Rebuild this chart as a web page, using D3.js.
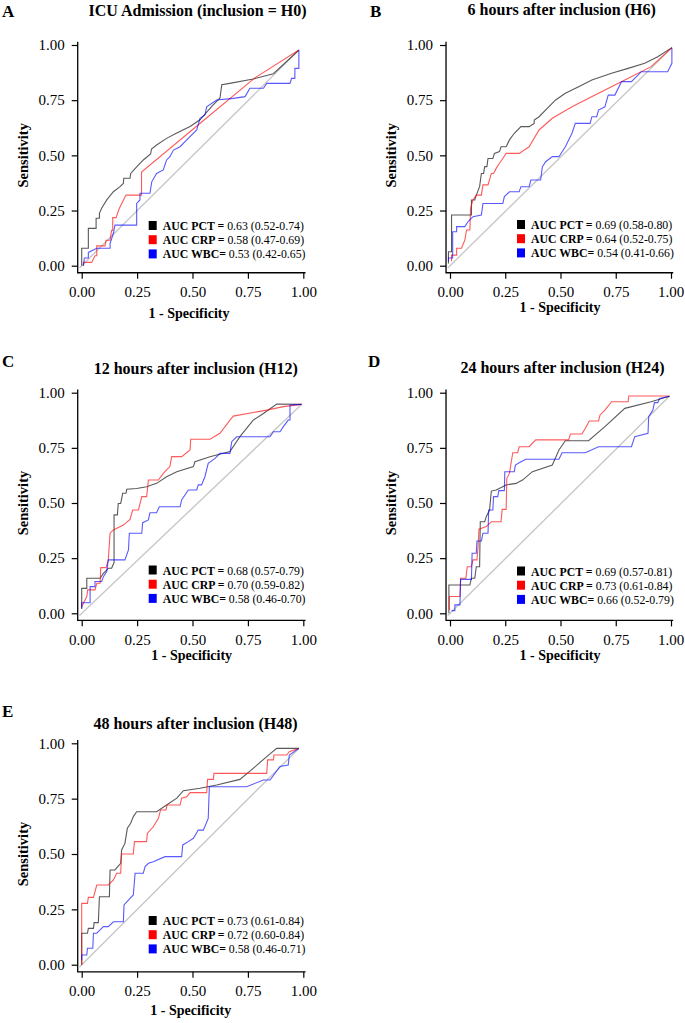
<!DOCTYPE html>
<html>
<head>
<meta charset="utf-8">
<script src="https://cdn.jsdelivr.net/npm/d3@7"></script>
<style>
  body { margin: 0; background: #fff; }
  svg { display: block; font-family: "Liberation Serif", "Times New Roman", serif; }
</style>
</head>
<body>
<svg id="chart" width="685" height="1023"></svg>
<script>
// ----- data: [1 - specificity, sensitivity] -----
const panelKeys = ["H0", "H6", "H12", "H24", "H48"];
const panelLetters = ["A", "B", "C", "D", "E"];
const panelTitles = [
  "ICU Admission (inclusion = H0)",
  "6 hours after inclusion (H6)",
  "12 hours after inclusion (H12)",
  "24 hours after inclusion (H24)",
  "48 hours after inclusion (H48)",
];
const markers = ["PCT", "CRP", "WBC"];
const markerLabels = ["AUC PCT =", "AUC CRP =", "AUC WBC="];
const aucText = [
  ["0.63 (0.52-0.74)", "0.58 (0.47-0.69)", "0.53 (0.42-0.65)"],
  ["0.69 (0.58-0.80)", "0.64 (0.52-0.75)", "0.54 (0.41-0.66)"],
  ["0.68 (0.57-0.79)", "0.70 (0.59-0.82)", "0.58 (0.46-0.70)"],
  ["0.69 (0.57-0.81)", "0.73 (0.61-0.84)", "0.66 (0.52-0.79)"],
  ["0.73 (0.61-0.84)", "0.72 (0.60-0.84)", "0.58 (0.46-0.71)"],
];
const tickValues = [0, 0.25, 0.5, 0.75, 1];
const tickLabels = ["0.00", "0.25", "0.50", "0.75", "1.00"];

// end point of the grey reference line in each panel
const diagEnds = [[0.98, 0.977], [1.004, 0.988], [0.992, 0.947], [0.993, 0.984], [0.98, 0.977]];

const pctH0 = [[0,0],[0,0.079],[0.03,0.079],[0.03,0.169],[0.065,0.169],[0.065,0.215],[0.08,0.215],[0.08,0.237],[0.09,0.26],[0.113,0.298],[0.143,0.335],[0.173,0.358],[0.188,0.373],[0.19,0.396],[0.218,0.396],[0.221,0.418],[0.248,0.448],[0.278,0.479],[0.311,0.506],[0.315,0.529],[0.338,0.547],[0.383,0.577],[0.429,0.601],[0.489,0.631],[0.534,0.661],[0.59,0.725],[0.624,0.76],[0.632,0.82],[0.668,0.826],[0.774,0.846],[0.865,0.87],[0.98,0.977]];
const crpH0 = [[0.008,0],[0.008,0.015],[0.045,0.015],[0.06,0.045],[0.068,0.045],[0.068,0.09],[0.105,0.09],[0.11,0.115],[0.128,0.115],[0.135,0.16],[0.14,0.16],[0.14,0.218],[0.155,0.218],[0.17,0.26],[0.2,0.32],[0.27,0.32],[0.27,0.424],[0.54,0.65],[0.78,0.85],[0.98,0.977]];
const wbcH0 = [[0.008,0],[0.012,0.035],[0.03,0.035],[0.03,0.06],[0.068,0.079],[0.128,0.079],[0.128,0.1],[0.143,0.147],[0.15,0.184],[0.248,0.184],[0.248,0.282],[0.263,0.298],[0.263,0.328],[0.308,0.328],[0.316,0.38],[0.338,0.418],[0.368,0.434],[0.383,0.479],[0.398,0.494],[0.414,0.524],[0.444,0.539],[0.474,0.57],[0.519,0.615],[0.534,0.668],[0.556,0.683],[0.564,0.72],[0.609,0.751],[0.684,0.758],[0.737,0.766],[0.759,0.804],[0.82,0.804],[0.835,0.826],[0.94,0.826],[0.947,0.849],[0.962,0.849],[0.962,0.894],[0.98,0.894],[0.98,0.977]];

const pctH6 = [[-0.007,0.01],[-0.007,0.063],[0.007,0.063],[0.007,0.23],[0.097,0.23],[0.097,0.298],[0.112,0.298],[0.119,0.32],[0.134,0.358],[0.142,0.418],[0.152,0.418],[0.157,0.449],[0.167,0.449],[0.172,0.486],[0.194,0.486],[0.201,0.509],[0.224,0.517],[0.231,0.539],[0.254,0.539],[0.269,0.57],[0.291,0.6],[0.321,0.63],[0.358,0.63],[0.381,0.645],[0.381,0.66],[0.403,0.675],[0.44,0.713],[0.478,0.751],[0.522,0.781],[0.582,0.811],[0.642,0.841],[0.731,0.872],[0.806,0.894],[0.881,0.917],[0.94,0.947],[1.004,0.988]];
const crpH6 = [[0.007,0.02],[0.007,0.048],[0.03,0.048],[0.03,0.079],[0.052,0.079],[0.067,0.116],[0.075,0.162],[0.09,0.162],[0.093,0.26],[0.104,0.298],[0.119,0.32],[0.142,0.32],[0.149,0.366],[0.172,0.366],[0.187,0.418],[0.197,0.418],[0.209,0.441],[0.224,0.464],[0.239,0.486],[0.254,0.509],[0.313,0.509],[0.358,0.539],[0.403,0.615],[0.463,0.668],[0.552,0.72],[0.672,0.781],[0.791,0.841],[0.91,0.902],[1.004,0.988]];
const wbcH6 = [[-0.007,0.02],[-0.007,0.035],[0.012,0.035],[0.012,0.154],[0.03,0.154],[0.03,0.177],[0.067,0.177],[0.082,0.2],[0.104,0.222],[0.142,0.23],[0.149,0.282],[0.239,0.282],[0.246,0.313],[0.269,0.335],[0.313,0.335],[0.321,0.358],[0.358,0.358],[0.366,0.388],[0.41,0.388],[0.418,0.449],[0.433,0.471],[0.463,0.494],[0.493,0.494],[0.522,0.539],[0.552,0.6],[0.567,0.645],[0.634,0.645],[0.642,0.675],[0.664,0.675],[0.672,0.705],[0.701,0.72],[0.716,0.773],[0.746,0.773],[0.776,0.834],[0.821,0.834],[0.866,0.879],[0.985,0.879],[1.004,0.917],[1.004,0.988]];

const pctH12 = [[0,0.02],[0,0.113],[0.023,0.113],[0.023,0.159],[0.083,0.159],[0.098,0.181],[0.12,0.204],[0.135,0.204],[0.146,0.23],[0.146,0.446],[0.161,0.446],[0.165,0.498],[0.176,0.498],[0.185,0.544],[0.2,0.544],[0.203,0.562],[0.248,0.566],[0.293,0.574],[0.338,0.589],[0.383,0.619],[0.429,0.642],[0.504,0.665],[0.511,0.687],[0.579,0.71],[0.669,0.733],[0.714,0.801],[0.774,0.876],[0.82,0.906],[0.88,0.949],[0.992,0.947]];
const crpH12 = [[0,0.03],[0.023,0.076],[0.027,0.106],[0.06,0.106],[0.068,0.136],[0.083,0.136],[0.086,0.207],[0.11,0.207],[0.12,0.242],[0.128,0.363],[0.143,0.378],[0.188,0.4],[0.218,0.426],[0.23,0.468],[0.256,0.468],[0.271,0.529],[0.293,0.529],[0.301,0.604],[0.346,0.604],[0.368,0.634],[0.398,0.665],[0.406,0.71],[0.451,0.71],[0.489,0.74],[0.492,0.789],[0.579,0.789],[0.624,0.816],[0.669,0.876],[0.684,0.894],[0.835,0.921],[0.91,0.937],[0.992,0.947]];
const wbcH12 = [[0,0.023],[0,0.048],[0.038,0.048],[0.038,0.121],[0.06,0.121],[0.06,0.144],[0.09,0.144],[0.098,0.166],[0.113,0.189],[0.12,0.242],[0.195,0.242],[0.211,0.287],[0.215,0.363],[0.271,0.363],[0.275,0.411],[0.301,0.423],[0.308,0.456],[0.338,0.456],[0.35,0.483],[0.444,0.483],[0.451,0.514],[0.481,0.559],[0.519,0.559],[0.526,0.582],[0.541,0.582],[0.556,0.619],[0.571,0.68],[0.602,0.702],[0.624,0.725],[0.669,0.725],[0.677,0.778],[0.699,0.8],[0.85,0.8],[0.865,0.823],[0.895,0.823],[0.91,0.846],[0.932,0.876],[0.94,0.876],[0.94,0.944],[0.992,0.947]];

const pctH24 = [[-0.005,0],[-0.005,0.128],[0.09,0.128],[0.097,0.159],[0.112,0.159],[0.119,0.211],[0.134,0.211],[0.137,0.415],[0.157,0.415],[0.164,0.438],[0.179,0.468],[0.187,0.554],[0.209,0.559],[0.254,0.582],[0.299,0.589],[0.328,0.604],[0.373,0.642],[0.463,0.672],[0.493,0.74],[0.522,0.782],[0.627,0.782],[0.701,0.846],[0.791,0.929],[0.91,0.959],[0.993,0.984]];
const crpH24 = [[-0.003,0.015],[-0.003,0.076],[0.045,0.076],[0.048,0.159],[0.072,0.159],[0.078,0.211],[0.097,0.211],[0.104,0.242],[0.122,0.242],[0.127,0.302],[0.131,0.381],[0.164,0.393],[0.187,0.415],[0.231,0.415],[0.236,0.471],[0.254,0.471],[0.257,0.612],[0.269,0.634],[0.284,0.728],[0.306,0.728],[0.313,0.755],[0.358,0.755],[0.388,0.786],[0.537,0.786],[0.545,0.813],[0.597,0.813],[0.612,0.838],[0.63,0.872],[0.672,0.872],[0.679,0.899],[0.701,0.921],[0.731,0.959],[0.806,0.959],[0.809,0.985],[0.993,0.985]];
const wbcH24 = [[0.007,0.012],[0.022,0.012],[0.022,0.038],[0.045,0.038],[0.048,0.154],[0.097,0.154],[0.1,0.272],[0.119,0.272],[0.122,0.328],[0.142,0.328],[0.149,0.363],[0.172,0.363],[0.175,0.468],[0.194,0.468],[0.197,0.529],[0.216,0.529],[0.221,0.556],[0.246,0.556],[0.248,0.642],[0.291,0.642],[0.296,0.672],[0.321,0.687],[0.343,0.698],[0.493,0.698],[0.507,0.728],[0.612,0.728],[0.672,0.755],[0.821,0.755],[0.836,0.801],[0.896,0.816],[0.899,0.891],[0.918,0.921],[0.925,0.955],[0.94,0.955],[0.948,0.974],[0.993,0.984]];

const pctH48 = [[0,0],[0,0.142],[0.026,0.142],[0.03,0.164],[0.053,0.164],[0.056,0.19],[0.075,0.19],[0.08,0.307],[0.125,0.307],[0.128,0.428],[0.15,0.428],[0.176,0.458],[0.18,0.518],[0.195,0.548],[0.206,0.616],[0.221,0.639],[0.233,0.669],[0.248,0.691],[0.338,0.691],[0.383,0.721],[0.429,0.752],[0.459,0.786],[0.534,0.797],[0.609,0.812],[0.714,0.837],[0.774,0.887],[0.835,0.94],[0.88,0.977],[0.98,0.977]];
const crpH48 = [[0,0],[0,0.277],[0.026,0.277],[0.03,0.304],[0.053,0.304],[0.068,0.36],[0.12,0.36],[0.143,0.383],[0.158,0.413],[0.176,0.413],[0.18,0.5],[0.233,0.5],[0.238,0.556],[0.293,0.556],[0.296,0.593],[0.323,0.623],[0.346,0.661],[0.356,0.699],[0.38,0.699],[0.386,0.721],[0.444,0.721],[0.451,0.752],[0.474,0.759],[0.489,0.777],[0.564,0.777],[0.568,0.837],[0.594,0.837],[0.597,0.864],[0.835,0.864],[0.839,0.925],[0.865,0.925],[0.868,0.947],[0.925,0.947],[0.937,0.962],[0.98,0.977]];
const wbcH48 = [[0,0.021],[0,0.044],[0.023,0.044],[0.026,0.074],[0.05,0.074],[0.053,0.142],[0.068,0.142],[0.083,0.157],[0.098,0.172],[0.12,0.172],[0.143,0.194],[0.188,0.194],[0.191,0.27],[0.218,0.3],[0.233,0.315],[0.241,0.413],[0.278,0.413],[0.286,0.443],[0.301,0.458],[0.323,0.465],[0.376,0.488],[0.451,0.488],[0.456,0.541],[0.481,0.556],[0.504,0.571],[0.526,0.608],[0.549,0.608],[0.571,0.661],[0.576,0.804],[0.744,0.804],[0.82,0.834],[0.85,0.834],[0.895,0.895],[0.932,0.902],[0.937,0.947],[0.98,0.977]];

const curves = {
  H0: [pctH0, crpH0, wbcH0],
  H6: [pctH6, crpH6, wbcH6],
  H12: [pctH12, crpH12, wbcH12],
  H24: [pctH24, crpH24, wbcH24],
  H48: [pctH48, crpH48, wbcH48],
};

// ----- layout (pixels) -----
const layout = [
  { x0: 81.7, x1: 303.3, y0: 265.7, y1: 45, letterX: 2, letterY: 16.7, titleX: 197.5, titleY: 15.5, xlabX: 189, xlabY: 318, legTop: 221 },
  { x0: 450, x1: 671, y0: 265.7, y1: 45, letterX: 370, letterY: 16.7, titleX: 561.7, titleY: 15, xlabX: 560, xlabY: 312, legTop: 220 },
  { x0: 81.7, x1: 303.3, y0: 613.3, y1: 392.7, letterX: 2, letterY: 366.7, titleX: 195.8, titleY: 373.8, xlabX: 191.7, xlabY: 660, legTop: 565.5 },
  { x0: 450, x1: 671, y0: 613.3, y1: 392.7, letterX: 368, letterY: 366.7, titleX: 562.5, titleY: 372.5, xlabX: 560, xlabY: 660, legTop: 566.5 },
  { x0: 81.7, x1: 303.3, y0: 964.7, y1: 743.3, letterX: 2, letterY: 716.7, titleX: 195.5, titleY: 728.5, xlabX: 190.8, xlabY: 1015, legTop: 916 },
];

const lineColors = ["#000000", "#ff0000", "#0000ff"];

const svg = d3.select("#chart");
svg.append("rect").attr("width", 685).attr("height", 1023).attr("fill", "#fff");

panelKeys.forEach((key, i) => {
  const L = layout[i];
  const x = d3.scaleLinear().domain([0, 1]).range([L.x0, L.x1]);
  const y = d3.scaleLinear().domain([0, 1]).range([L.y0, L.y1]);
  const g = svg.append("g");

  // panel letter and title
  g.append("text")
    .attr("x", L.letterX).attr("y", L.letterY)
    .attr("font-size", 17).attr("font-weight", "bold")
    .text(panelLetters[i]);
  g.append("text")
    .attr("x", L.titleX).attr("y", L.titleY)
    .attr("text-anchor", "middle")
    .attr("font-size", 16).attr("font-weight", "bold")
    .text(panelTitles[i]);

  // L-shaped frame
  const left = x(-0.018), right = x(1.01), top = y(1.015), bottom = y(-0.032);
  g.append("path")
    .attr("d", `M${left},${top}V${bottom}H${right}`)
    .attr("fill", "none").attr("stroke", "#000").attr("stroke-width", 1.3);

  // axes (ticks + labels only, frame drawn above)
  const yAxis = g.append("g")
    .attr("transform", `translate(${left},0)`)
    .call(d3.axisLeft(y).tickValues(tickValues).tickSize(6).tickPadding(7)
      .tickFormat((d, j) => tickLabels[j]));
  const xAxis = g.append("g")
    .attr("transform", `translate(0,${bottom})`)
    .call(d3.axisBottom(x).tickValues(tickValues).tickSize(6).tickPadding(8)
      .tickFormat((d, j) => tickLabels[j]));
  [xAxis, yAxis].forEach((a) => {
    a.select(".domain").remove();
    a.selectAll("line").attr("stroke", "#000").attr("stroke-width", 1.2);
    a.selectAll("text")
      .attr("font-family", "Liberation Serif, serif")
      .attr("font-size", 15).attr("fill", "#000");
  });
  // the right-hand panels sit against the page edge: keep the last label inside
  if (L.x1 > 600) {
    xAxis.selectAll(".tick:last-of-type text").attr("text-anchor", "end").attr("dx", "0.85em");
  }

  // axis titles
  g.append("text")
    .attr("x", L.xlabX).attr("y", L.xlabY)
    .attr("text-anchor", "middle")
    .attr("font-size", 14).attr("font-weight", "bold")
    .text("1 - Specificity");
  g.append("text")
    .attr("transform", `translate(${left - 50},${(L.y0 + L.y1) / 2}) rotate(-90)`)
    .attr("text-anchor", "middle")
    .attr("font-size", 14.5).attr("font-weight", "bold")
    .text("Sensitivity");

  // reference line
  const de = diagEnds[i];
  g.append("line")
    .attr("x1", x(-0.01)).attr("y1", y(-0.01))
    .attr("x2", x(de[0])).attr("y2", y(de[1]))
    .attr("stroke", "#c8c8c8").attr("stroke-width", 1.4);

  // ROC curves
  const line = d3.line().x((d) => x(d[0])).y((d) => y(d[1]));
  curves[key].forEach((pts, k) => {
    g.append("path")
      .datum(pts)
      .attr("d", line)
      .attr("fill", "none")
      .attr("stroke", lineColors[k])
      .attr("stroke-opacity", 0.65)
      .attr("stroke-width", 1.1);
  });

  // legend
  const legX = x(0) + 67;
  markers.forEach((m, k) => {
    const ty = L.legTop + k * 14.2;
    g.append("rect")
      .attr("x", legX).attr("y", ty)
      .attr("width", 8).attr("height", 9)
      .attr("fill", lineColors[k]);
    const t = g.append("text")
      .attr("x", legX + 14).attr("y", ty + 9)
      .attr("font-size", 11.8);
    t.append("tspan").attr("font-weight", "bold").text(markerLabels[k]);
    t.append("tspan").text(" " + aucText[i][k]);
  });
});
</script>
</body>
</html>
